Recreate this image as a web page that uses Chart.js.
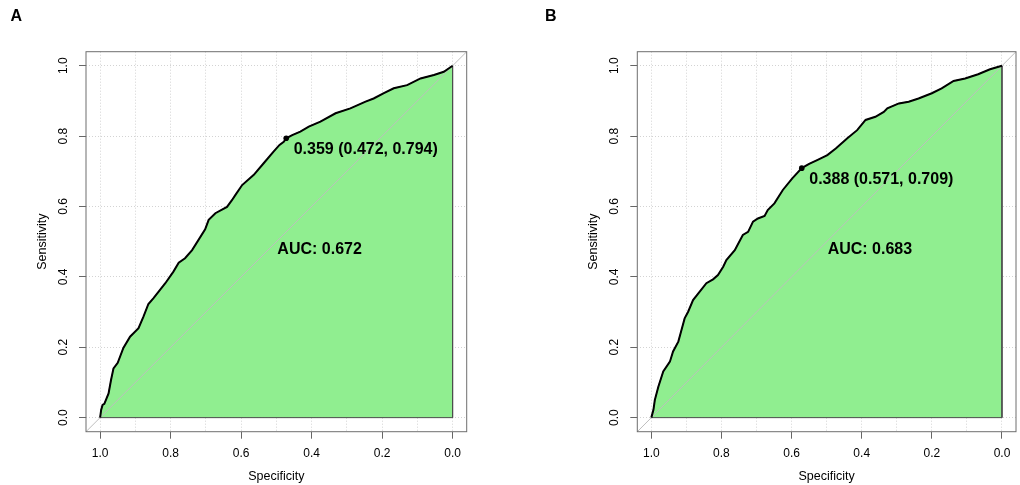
<!DOCTYPE html>
<html>
<head>
<meta charset="utf-8">
<script src="https://cdn.jsdelivr.net/npm/chart.js@4.4.0/dist/chart.umd.min.js"></script>
<style>
  body { margin: 0; background: #fff; }
  canvas { position: absolute; top: 0; }
</style>
</head>
<body>
<canvas id="rocA" width="510" height="485" style="left:0"></canvas>
<canvas id="rocB" width="510" height="485" style="left:510px"></canvas>
<script>
// ROC curve A (specificity, sensitivity)
const specA = [1, 0.997, 0.993, 0.988, 0.976, 0.969, 0.962, 0.950, 0.934, 0.915, 0.891, 0.877, 0.863, 0.849, 0.815, 0.792,
  0.777, 0.759, 0.739, 0.702, 0.692, 0.673, 0.640, 0.626, 0.616, 0.597, 0.564, 0.536, 0.508, 0.491, 0.479, 0.472, 0.455,
  0.432, 0.408, 0.375, 0.332, 0.290, 0.247, 0.224, 0.195, 0.167, 0.129, 0.091, 0.053, 0.025, 0];
const sensA = [0, 0.022, 0.036, 0.039, 0.069, 0.107, 0.140, 0.156, 0.198, 0.230, 0.254, 0.287, 0.323, 0.339, 0.382, 0.415,
  0.440, 0.453, 0.476, 0.535, 0.562, 0.581, 0.599, 0.618, 0.633, 0.661, 0.690, 0.723, 0.756, 0.775, 0.784, 0.794, 0.803,
  0.813, 0.827, 0.841, 0.865, 0.879, 0.898, 0.907, 0.922, 0.936, 0.945, 0.964, 0.974, 0.983, 1];
const thrA = [0.359, 0.472, 0.794]; // threshold, specificity, sensitivity
const aucA = 0.672;

// ROC curve B
const specB = [1, 0.994, 0.990, 0.980, 0.966, 0.947, 0.938, 0.923, 0.914, 0.905, 0.895, 0.881, 0.862, 0.843, 0.824, 0.810,
  0.795, 0.786, 0.762, 0.739, 0.724, 0.710, 0.696, 0.677, 0.668, 0.649, 0.625, 0.598, 0.571, 0.550, 0.527, 0.498, 0.474,
  0.441, 0.413, 0.389, 0.361, 0.337, 0.327, 0.294, 0.266, 0.238, 0.200, 0.172, 0.138, 0.105, 0.068, 0.034, 0];
const sensB = [0, 0.022, 0.050, 0.088, 0.131, 0.159, 0.188, 0.216, 0.249, 0.282, 0.301, 0.334, 0.358, 0.382, 0.393, 0.405,
  0.429, 0.448, 0.476, 0.519, 0.528, 0.557, 0.566, 0.573, 0.590, 0.609, 0.647, 0.680, 0.709, 0.721, 0.732, 0.746, 0.765,
  0.794, 0.817, 0.846, 0.855, 0.869, 0.879, 0.893, 0.898, 0.907, 0.922, 0.936, 0.957, 0.964, 0.976, 0.990, 1];
const thrB = [0.388, 0.571, 0.709];
const aucB = 0.683;

const axisMin = -0.04, axisMax = 1.04;
const FONT = '"Liberation Sans", Arial, sans-serif';
Chart.defaults.font.family = FONT;

const isMajor = v => Math.round(v * 10) % 2 === 0;

const annotate = {
  id: 'annotate',
  afterDatasetsDraw(chart, args, opts) {
    const { ctx, chartArea: a, scales: { x, y } } = chart;
    ctx.save();
    ctx.strokeStyle = '#6e6e6e';
    ctx.lineWidth = 1;
    ctx.strokeRect(a.left, a.top, a.width, a.height);

    ctx.fillStyle = '#000';
    ctx.font = 'bold 16px ' + FONT;
    ctx.textAlign = 'left';
    ctx.textBaseline = 'alphabetic';
    const t = opts.thr;
    const px = x.getPixelForValue(t[1]), py = y.getPixelForValue(t[2]);
    ctx.fillText(t[0].toFixed(3) + ' (' + t[1].toFixed(3) + ', ' + t[2].toFixed(3) + ')', px + 7.5, py + 15.6);
    ctx.fillText('AUC: ' + opts.auc.toFixed(3), x.getPixelForValue(0.5) + 1, y.getPixelForValue(0.5) + 12.3);

    ctx.textAlign = 'center';
    ctx.textBaseline = 'middle';
    ctx.fillText(opts.letter, opts.letterX, 17);
    ctx.restore();
  }
};

function makeChart(id, spec, sens, thr, auc, letter, lay) {
  const curve = spec.map((s, i) => ({ x: s, y: sens[i] }));
  new Chart(document.getElementById(id), {
    type: 'line',
    data: {
      datasets: [
        { data: [{ x: thr[1], y: thr[2] }], showLine: false, pointRadius: 2.8, pointBackgroundColor: '#000', pointBorderWidth: 0 },
        { data: curve, borderColor: '#000', borderWidth: 2, pointRadius: 0, fill: false },
        { data: [{ x: axisMax, y: axisMin }, { x: axisMin, y: axisMax }], borderColor: '#bebebe', borderWidth: 1, pointRadius: 0, fill: false },
        { data: [{ x: 1, y: 0 }, { x: 0, y: 0 }], borderColor: '#4d4d4d', borderWidth: 1, pointRadius: 0, fill: false },
        { data: curve.concat([{ x: 0, y: 0 }]), borderColor: '#4d4d4d', borderWidth: 1, pointRadius: 0,
          backgroundColor: '#90ee90', fill: 'origin' }
      ]
    },
    options: {
      responsive: false,
      animation: false,
      elements: { line: { tension: 0 } },
      layout: { padding: { left: lay.pl, top: 51.7, right: lay.pr, bottom: 0 } },
      plugins: {
        legend: { display: false },
        tooltip: { enabled: false },
        annotate: { thr: thr, auc: auc, letter: letter, letterX: lay.lx }
      },
      scales: {
        x: {
          type: 'linear', reverse: true, min: axisMin, max: axisMax,
          afterFit: s => { s.height = 53.3; },
          border: { display: false, dash: [1, 2] },
          grid: {
            color: '#d3d3d3', tickLength: 7,
            tickColor: c => (c.tick && isMajor(c.tick.value)) ? '#666' : 'rgba(0,0,0,0)'
          },
          ticks: {
            stepSize: 0.1, includeBounds: false, autoSkip: false, maxRotation: 0, padding: 8,
            color: '#000', font: { size: 12 },
            callback: v => isMajor(v) ? v.toFixed(1) : ''
          },
          title: { display: true, text: 'Specificity', color: '#000', font: { size: 12.5 }, padding: { top: 0, bottom: 1 } }
        },
        y: {
          type: 'linear', min: axisMin, max: axisMax,
          afterFit: s => { s.width = lay.yw; },
          border: { display: false, dash: [1, 2] },
          grid: { color: '#d3d3d3', tickLength: 7, tickColor: '#666' },
          ticks: {
            stepSize: 0.2, includeBounds: false, minRotation: 90, maxRotation: 90, crossAlign: 'center',
            padding: 7.4, color: '#000', font: { size: 12 },
            callback: v => v.toFixed(1)
          },
          title: { display: true, text: 'Sensitivity', color: '#000', font: { size: 12.5 }, padding: { top: 0, bottom: 0 } }
        }
      }
    },
    plugins: [annotate]
  });
}

makeChart('rocA', specA, sensA, thrA, aucA, 'A', { pl: 35.2, yw: 50.8, pr: 43.3, lx: 16.3 });
makeChart('rocB', specB, sensB, thrB, aucB, 'B', { pl: 75.8, yw: 51.5, pr: 1.7, lx: 40.8 });
</script>
</body>
</html>
